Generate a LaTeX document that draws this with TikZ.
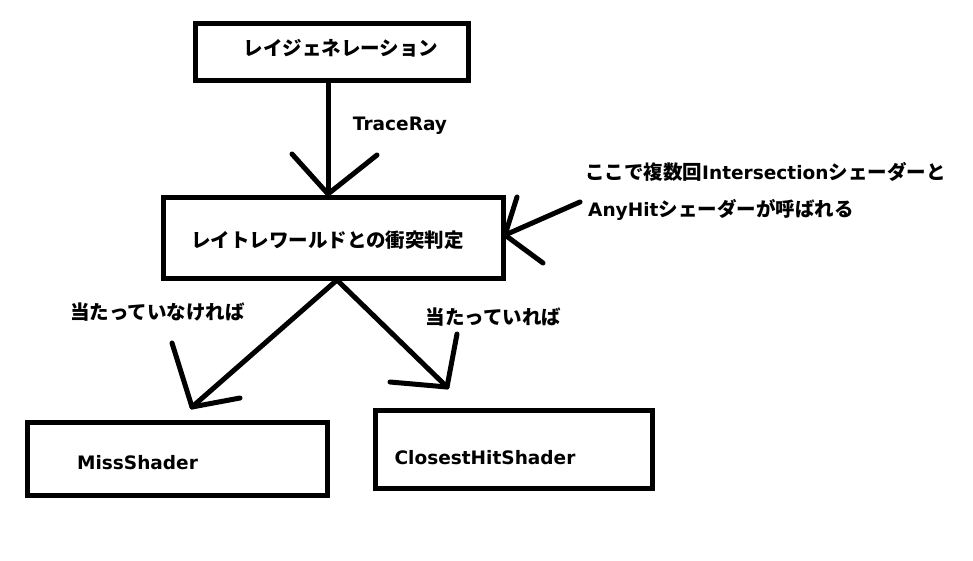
\documentclass[tikz,border=0pt]{standalone}
\usepackage{fontspec}
\setmainfont{DejaVu Sans}[Scale=0.95]
\newfontfamily\jp{Noto Sans CJK JP}
\newcommand{\lat}{\rmfamily}
\begin{document}
\begin{tikzpicture}[x=1pt,y=-1pt,
  box/.style={draw=black,line width=5pt,minimum width=#1,inner sep=0pt,rectangle},
  txt/.style={inner sep=0pt,font=\jp\bfseries\fontsize{19.5}{22}\selectfont},
  ltxt/.style={inner sep=0pt,font=\lat\bfseries\fontsize{19.5}{22}\selectfont},
  stroke/.style={line width=5pt,line cap=round,line join=round}]
\useasboundingbox (0,0) rectangle (973,560);
\fill[white] (0,0) rectangle (973,560);
% boxes
\node[box=273pt,minimum height=57pt] (gen) at (331.5,51.5) {};
\node[box=340pt,minimum height=81pt] (hit) at (333,237.5) {};
\node[box=300pt,minimum height=73pt] (miss) at (177,458.5) {};
\node[box=277pt,minimum height=78pt] (closest) at (513.5,449) {};
% texts
\node[txt] (tgen) at (341,48) {レイジェネレーション};
\node[ltxt] (ttrace) at (400,126) {TraceRay};
\node[txt] (thit) at (327.5,240) {レイトレワールドとの衝突判定};
\node[txt,anchor=west] (tnote1) at (585,172) {ここで複数回{\lat\bfseries Intersection}シェーダーと};
\node[txt,anchor=west] (tnote2) at (588,210) {{\lat\bfseries AnyHit}シェーダーが呼ばれる};
\node[txt] (tmiss) at (157.5,312) {当たっていなければ};
\node[txt] (thitlab) at (493.5,317) {当たっていれば};
\node[ltxt] (tmissname) at (137.5,463) {MissShader};
\node[ltxt] (tclosest) at (485,458) {ClosestHitShader};
% arrow coordinates
\coordinate (downtip) at (328,194);
\coordinate (db1) at (292,154);
\coordinate (db2) at (377,155);
\coordinate (rtip) at (505,235);
\coordinate (rtail) at (580,202);
\coordinate (rb1) at (517,197);
\coordinate (rb2) at (543,263);
\coordinate (apex) at (337,280);
\coordinate (ltip) at (192,407);
\coordinate (lb1) at (172,343);
\coordinate (lb2) at (240,398);
\coordinate (ctip) at (447,387);
\coordinate (cb1) at (457,334);
\coordinate (cb2) at (390,382);
% connectors
\draw[stroke] (gen.south -| downtip) -- (downtip);
\draw[stroke] (db1) -- (downtip) -- (db2);
\draw[stroke] (rtail) -- (rtip);
\draw[stroke] (rb1) -- (rtip) -- (rb2);
\draw[stroke] (apex) -- (ltip);
\draw[stroke] (lb1) -- (ltip) -- (lb2);
\draw[stroke] (apex) -- (ctip);
\draw[stroke] (cb1) -- (ctip) -- (cb2);
\end{tikzpicture}
\end{document}
